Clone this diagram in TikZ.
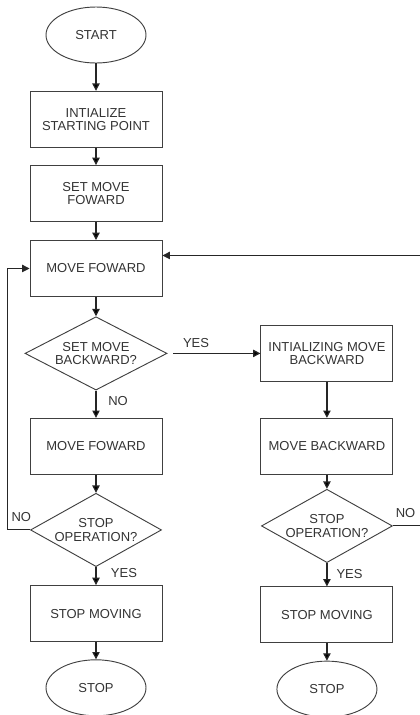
\documentclass[tikz,border=0pt]{standalone}
\usepackage{fontspec}
\setmainfont{Liberation Sans}
\usetikzlibrary{positioning,shapes.geometric,arrows.meta}
\tikzset{box node/.style={rectangle,draw=black!75,line width=0.7pt,minimum width=99pt,minimum height=42pt,inner sep=1pt,align=center,text=black!80,font=\fontsize{9.75}{10}\selectfont},
	end node/.style={ellipse,draw=black!75,line width=0.7pt,minimum width=75pt,minimum height=42pt,inner sep=0pt,text=black!80,font=\fontsize{9.75}{10}\selectfont},
	ask node/.style={diamond,draw=black!75,line width=0.7pt,aspect=1.8,inner sep=0pt,minimum width=106.5pt,minimum height=55pt,align=center,text=black!80,font=\fontsize{9.75}{10}\selectfont},
	lbl/.style={inner sep=1pt,text=black!80,font=\fontsize{9.75}{10}\selectfont},
	flow/.style={draw=black!85,line width=0.9pt,-{Triangle[length=5.5pt,width=5.5pt]}},
}

\begin{document}
\begin{tikzpicture}[x=0.75pt,y=-0.75pt]
	\useasboundingbox (0,0) rectangle (419,715);
	\node[end node] (start) at (96,35) {START};
	\node[box node] (init) [below = 20.5pt of start] {INTIALIZE\\STARTING POINT};
	\node[box node] (setfwd) [below = 13pt of init] {SET MOVE\\FOWARD};
	\node[box node] (fwd) [below = 13.5pt of setfwd] {MOVE FOWARD};
	\node[ask node] (askback) [below = 14.5pt of fwd] {SET MOVE\\BACKWARD?};
	\node[box node] (fwd2) [below = 20.5pt of askback] {MOVE FOWARD};
	\node[ask node,minimum width=98.25pt] (askstop) [below = 13.5pt of fwd2] {STOP\\OPERATION?};
	\node[box node] (stopmov) [below = 13.5pt of askstop] {STOP MOVING};
	\node[end node] (stop) [below = 13pt of stopmov] {STOP};
	
	\node[box node] (initback) [right = 69.75pt of askback] {INTIALIZING MOVE\\BACKWARD};
	\node[box node] (back) [below = 27pt of initback] {MOVE BACKWARD};
	\node[ask node,minimum width=98.25pt] (askstop2) [below = 10.5pt of back] {STOP\\OPERATION?};
	\node[box node] (stopmov2) [below = 17.5pt of askstop2] {STOP MOVING};
	\node[end node] (stop2) [below = 13pt of stopmov2] {STOP};
	
	\node[lbl,anchor=south west] (yes1) at ([xshift=10.5pt,yshift=3pt]askback.east) {YES};
	\node[lbl,anchor=west] (no1) at ([xshift=8pt,yshift=-7.5pt]askback.south) {NO};
	\node[lbl,anchor=south east] (no2) at ([xshift=2pt,yshift=5pt]askstop.west) {NO};
	\node[lbl,anchor=west] (yes2) at ([xshift=10pt,yshift=-4.5pt]askstop.south) {YES};
	\node[lbl,anchor=south west] (no3) at ([xshift=1pt,yshift=5pt]askstop2.east) {NO};
	\node[lbl,anchor=west] (yes3) at ([xshift=6pt,yshift=-8.25pt]askstop2.south) {YES};
	
	\path[flow]
	(start) edge (init)
	(init) edge (setfwd)
	(setfwd) edge (fwd)
	(fwd) edge (askback)
	(askback) edge (fwd2)
	(fwd2) edge (askstop)
	(askstop) edge (stopmov)
	(stopmov) edge (stop)
	(askback) edge[shorten <=4.5pt] (initback)
	(initback) edge (back)
	(back) edge (askstop2)
	(askstop2) edge (stopmov2)
	(stopmov2) edge (stop2)
	;
	% loops back to move foward
	\draw[flow,line width=0.7pt] (askstop.west) -- ++(-23,0) |- (fwd.west);
	\draw[flow,line width=0.7pt] (askstop2.east) -- ++(29,0) |- ([yshift=9.75pt]fwd.east);
\end{tikzpicture}
\end{document}
